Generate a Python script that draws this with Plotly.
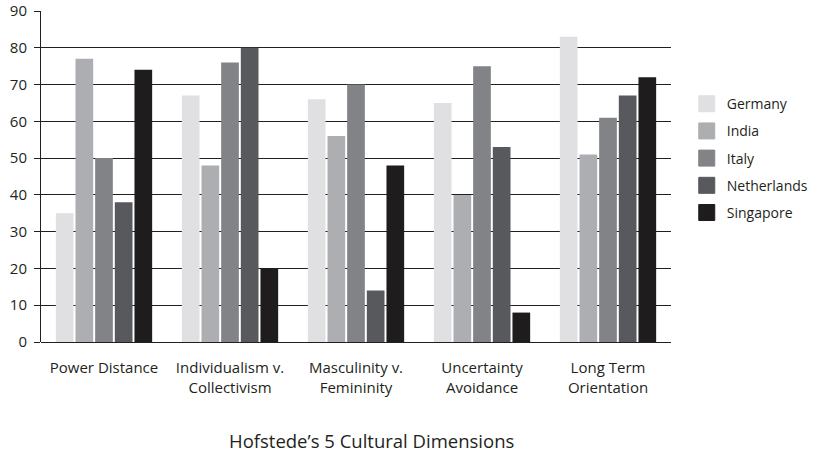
import plotly.graph_objects as go

categories = ["Power Distance", "Individualism v.<br>Collectivism", "Masculinity v.<br>Femininity",
              "Uncertainty<br>Avoidance", "Long Term<br>Orientation"]
countries = ["Germany", "India", "Italy", "Netherlands", "Singapore"]
germany = [35, 67, 66, 65, 83]
india = [77, 48, 56, 40, 51]
italy = [50, 76, 70, 75, 61]
netherlands = [38, 80, 14, 53, 67]
singapore = [74, 20, 48, 8, 72]
y_ticks = [0, 10, 20, 30, 40, 50, 60, 70, 80, 90]

series = [germany, india, italy, netherlands, singapore]
colors = ["#e0e0e2", "#adaeb1", "#828387", "#58595c", "#1e1c1d"]

fig = go.Figure()
for name, vals, col in zip(countries, series, colors):
    fig.add_trace(go.Bar(x=categories, y=vals, name=name, showlegend=False,
                         marker=dict(color=col, line=dict(width=0))))
# legend-only entries with larger square swatches
for name, col in zip(countries, colors):
    fig.add_trace(go.Scatter(x=[None], y=[None], mode="markers", name=name, legendgroup=name,
                             marker=dict(symbol="square", size=16, color=col,
                                         line=dict(width=1, color=col))))

font_family = "Open Sans, Noto Sans, sans-serif"
ink = "#231f20"
fig.update_layout(
    width=815, height=455,
    paper_bgcolor="white", plot_bgcolor="white",
    margin=dict(l=41, r=144, t=11, b=113, autoexpand=False),
    barmode="group", bargap=0.22, bargroupgap=0.1,
    font=dict(family=font_family, size=15, color=ink),
    xaxis=dict(showgrid=False, showline=False, ticks="", tickfont=dict(size=15),
               ticklabelstandoff=15, automargin=False),
    yaxis=dict(range=[0, 90], tickvals=y_ticks, showgrid=True, gridcolor=ink, gridwidth=1,
               showline=True, linecolor=ink, linewidth=1, ticks="outside", ticklen=6,
               tickcolor=ink, tickfont=dict(size=15), zeroline=True, zerolinecolor=ink,
               zerolinewidth=1, automargin=False, ticklabelstandoff=4),
    legend=dict(x=1.025, y=0.767, xanchor="left", yanchor="top", font=dict(size=14),
                tracegroupgap=6, itemsizing="trace"),
    annotations=[dict(text="Hofstede’s 5 Cultural Dimensions", x=0.525, y=-0.299, xref="paper",
                      yref="paper", xanchor="center", yanchor="middle", showarrow=False,
                      font=dict(size=18.5))],
)
# remove the browser's default 8px body margin so the figure sits flush with the window
fig.write_html("out.html", config={"displayModeBar": False},
               post_script="document.body.style.margin='0';")
